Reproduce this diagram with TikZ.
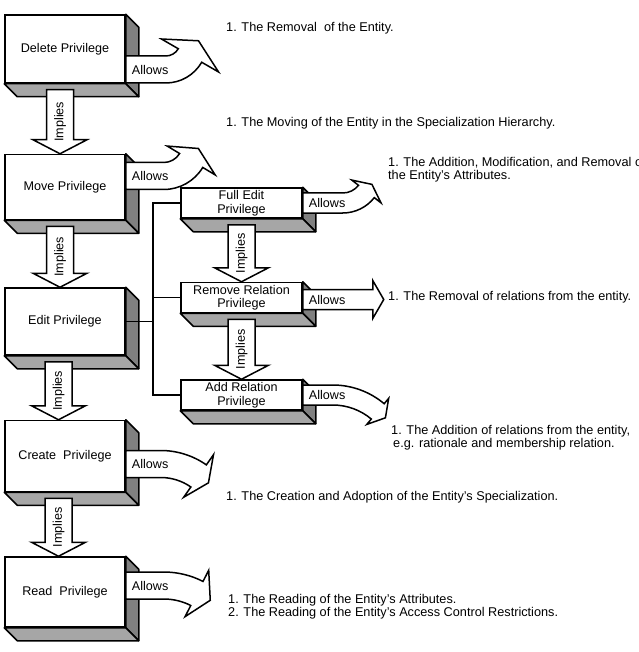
\documentclass[tikz,border=0pt]{standalone}
\usepackage{fontspec}
\setmainfont{Liberation Sans}
\usepackage{tikz}
\usetikzlibrary{positioning}
\usetikzlibrary{calc}

\newcommand{\boxfont}{\fontsize{12.6}{13.5}\selectfont}
\newcommand{\notefont}{\fontsize{12.7}{13}\selectfont}

\newcommand{\boxdepth}[2]{%
    \filldraw[rightface] (#1.north east) -- ++(#2,-#2) -- ($(#1.south east)+(#2,-#2)$) -- (#1.south east) -- cycle;
    \filldraw[bottomface] (#1.south west) -- ++(#2,-#2) -- ($(#1.south east)+(#2,-#2)$) -- (#1.south east) -- cycle;}

\newcommand{\allowarrow}[8]{%
    \begin{scope}[shift={#1}, yscale=#2]
    \draw[arrowshape] (0,-#6) -- (#3,-#6) arc[start angle=-90, end angle=-90+#4, radius=#5+#6]
        -- ({#3+(#5+#7)*sin(#4)},{#5-(#5+#7)*cos(#4)})
        -- ({#3+#5*sin(#4)+#8*cos(#4)},{#5-#5*cos(#4)+#8*sin(#4)})
        -- ({#3+(#5-#7)*sin(#4)},{#5-(#5-#7)*cos(#4)})
        -- ({#3+(#5-#6)*sin(#4)},{#5-(#5-#6)*cos(#4)})
        arc[start angle=-90+#4, end angle=-90, radius=#5-#6] -- (0,#6) -- cycle;
    \node[allowtext, anchor=west] at (6,0) {Allows};
    \end{scope}}

\newcommand{\impliesarrow}[4]{%
    \coordinate (itop) at ($(#1.south)+(#3,-6)$);
    \coordinate (itip) at ($(#2.north)+(#3,0)$);
    \draw[arrowshape] ($(itop)+(-#4,0)$) -- ($(itip)+(-#4,14)$) -- ($(itip)+(-2*#4,14)$) -- (itip)
        -- ($(itip)+(2*#4,14)$) -- ($(itip)+(#4,14)$) -- ($(itop)+(#4,0)$) -- cycle;
    \node[impliestext] at ($(itop)!0.5!(itip)$) {Implies};}

\begin{document}
\begin{tikzpicture}[
        x=1pt, y=1pt,
        box/.style={
            rectangle,
            draw,
            fill=white,
            line width=1.5pt,
            minimum width=120pt,
            inner sep=0pt,
            align=center,
            font=\boxfont
        },
        smallbox/.style={box, minimum width=121pt, minimum height=30pt},
        rightface/.style={draw, fill=black!50, line width=1.5pt, line join=round},
        bottomface/.style={draw, fill=black!35, line width=1.5pt, line join=round},
        arrowshape/.style={draw, fill=white, line width=1.5pt, line join=miter},
        allowtext/.style={inner sep=0pt, font=\boxfont},
        impliestext/.style={inner sep=0pt, rotate=90, font=\boxfont},
        note/.style={inner sep=0pt, anchor=west, align=left, font=\notefont},
        conn/.style={line width=1.5pt}
    ]

    \useasboundingbox (0,0) rectangle (638,-652);

    \node[box, minimum height=68pt] (del) at (65,-49) {Delete Privilege};
    \node[box, minimum height=65pt, below=70pt of del] (move) {Move Privilege};
    \node[box, minimum height=67pt, below=67pt of move] (edit) {Edit Privilege};
    \node[box, minimum height=71pt, below=64pt of edit] (create) {Create\ \ Privilege};
    \node[box, minimum height=70pt, below=64pt of create] (read) {Read\ \ Privilege};

    \node[smallbox] (full) at (241.5,-203) {Full Edit\\Privilege};
    \node[smallbox, below=63pt of full] (remove) {Remove Relation\\Privilege};
    \node[smallbox, below=66pt of remove] (add) {Add Relation\\Privilege};

    \foreach \b in {del,move,edit,create,read,full,remove,add} {\boxdepth{\b}{13}}

    \draw[conn] (edit.east) -- ++(27,0) coordinate (junc);
    \draw[conn] (full.west) -| (junc |- add.west) -- (add.west);
    \draw[conn] (junc |- remove.west) -- (remove.west);

    \allowarrow{($(del.east)+(0,-20.5)$)}{1}{40}{60}{28}{13.5}{33}{17}
    \allowarrow{($(move.east)+(0,11)$)}{1}{38}{59}{32}{13.5}{28}{14}
    \allowarrow{($(full.east)+(0,0)$)}{1}{40}{52}{30}{10}{18.5}{9}
    \allowarrow{($(remove.east)+(0,-2)$)}{1}{70}{0}{20}{10}{19}{11}
    \allowarrow{($(add.east)+(0,0)$)}{-1}{30}{40}{70}{10}{17}{10}
    \allowarrow{($(create.east)+(0,-8)$)}{-1}{35}{35}{66}{13.5}{26}{12}
    \allowarrow{($(read.east)+(0,6.5)$)}{-1}{38}{27}{73}{13.5}{26}{15}

    \impliesarrow{del}{move}{-5}{13.5}
    \impliesarrow{move}{edit}{-5}{13.5}
    \impliesarrow{edit}{create}{-6.5}{13.5}
    \impliesarrow{create}{read}{-6.5}{13.5}
    \impliesarrow{full}{remove}{0}{13.5}
    \impliesarrow{remove}{add}{0}{13.5}

    \node[note] (n1) at (226,-28) {1. The Removal\ \ of the Entity.};
    \node[note] (n2) at (226,-123) {1. The Moving of the Entity in the Specialization Hierarchy.};
    \node[note] (n3) at (388,-170) {1. The Addition, Modification, and Removal of\\the Entity's Attributes.};
    \node[note] (n4) at (388,-297) {1. The Removal of relations from the entity.};
    \node[note] (n5) at (391,-437.5) {1. The Addition of relations from the entity,\\\hspace*{2pt}e.g. rationale and membership relation.};
    \node[note] (n6) at (226,-497) {1. The Creation and Adoption of the Entity's Specialization.};
    \node[note] (n7) at (228,-607) {1. The Reading of the Entity's Attributes.\\2. The Reading of the Entity's Access Control Restrictions.};

\end{tikzpicture}
\end{document}
